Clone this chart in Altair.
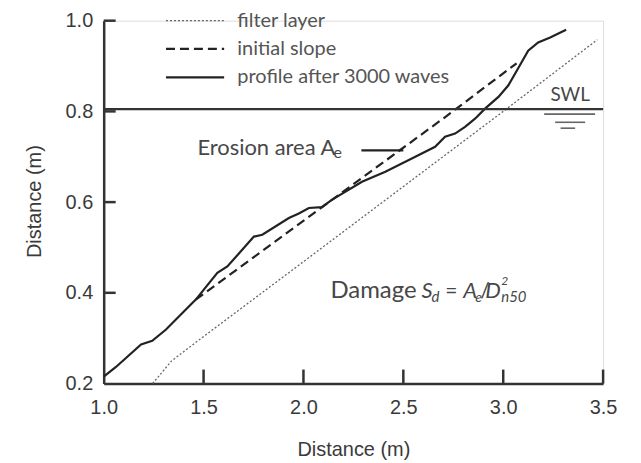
import altair as alt
import pandas as pd

# ---- data ----
profile_x = [1.0, 1.06, 1.187, 1.243, 1.312, 1.461, 1.569, 1.619, 1.752, 1.794, 1.927, 1.977,
             2.027, 2.092, 2.142, 2.293, 2.410, 2.560, 2.659, 2.709, 2.759, 2.809, 2.859,
             2.909, 2.976, 3.025, 3.075, 3.125, 3.175, 3.235, 3.315]
profile_y = [0.215, 0.236, 0.286, 0.294, 0.319, 0.385, 0.444, 0.458, 0.524, 0.528, 0.565, 0.575,
             0.587, 0.589, 0.605, 0.645, 0.667, 0.700, 0.722, 0.744, 0.751, 0.766, 0.784,
             0.806, 0.832, 0.857, 0.895, 0.934, 0.952, 0.963, 0.980]
initial_x = [1.461, 2.708, 3.067]
initial_y = [0.385, 0.787, 0.906]
filter_x = [1.245, 1.34, 1.48, 1.98, 3.009, 3.471]
filter_y = [0.200, 0.250, 0.297, 0.462, 0.803, 0.958]
swl_level = 0.805
x_ticks = [1.0, 1.5, 2.0, 2.5, 3.0, 3.5]
y_ticks = [0.2, 0.4, 0.6, 0.8, 1.0]
legend_labels = ["filter layer", "initial slope", "profile after 3000 waves"]

W, H = 501, 364
xs = alt.Scale(domain=[1.0, 3.5], nice=False, zero=False)
ys = alt.Scale(domain=[0.2, 1.0], nice=False, zero=False)
AX_COL = "#333333"
LAB_COL = "#3a3a3a"
xaxis = alt.Axis(values=x_ticks, format=".1f", title="Distance (m)", ticks=False, tickSize=0,
                 grid=False, domainColor=AX_COL, domainWidth=2.5, labelPadding=14,
                 labelFlush=False, labelOverlap=False,
                 labelFont="Liberation Sans", labelFontSize=20, labelColor=LAB_COL,
                 titleFont="Liberation Sans", titleFontSize=20, titleFontWeight="normal",
                 titleColor=LAB_COL, titleY=66, titleBaseline="middle")
yaxis = alt.Axis(values=y_ticks, format=".1f", title="Distance (m)", ticks=False, tickSize=0,
                 grid=False, domainColor=AX_COL, domainWidth=2.5, labelPadding=11,
                 labelFlush=False, labelOverlap=False,
                 labelFont="Liberation Sans", labelFontSize=20, labelColor=LAB_COL,
                 titleFont="Liberation Sans", titleFontSize=20, titleFontWeight="normal",
                 titleColor=LAB_COL, titleX=-69, titleY=181, titleAngle=-90,
                 titleBaseline="middle", titleAlign="center")

def X(f="x"):
    return alt.X(f + ":Q", scale=xs, axis=xaxis)

def Y(f="y"):
    return alt.Y(f + ":Q", scale=ys, axis=yaxis)

prof = pd.DataFrame({"x": profile_x, "y": profile_y, "o": range(len(profile_x))})
init = pd.DataFrame({"x": initial_x, "y": initial_y, "o": range(len(initial_x))})
filt = pd.DataFrame({"x": filter_x, "y": filter_y, "o": range(len(filter_x))})

filter_line = alt.Chart(filt).mark_line(color="#666666", strokeWidth=1.3, strokeDash=[2, 2]).encode(
    x=X(), y=Y(), order="o:Q")
init_line = alt.Chart(init).mark_line(color="#222222", strokeWidth=2.2, strokeDash=[9, 5]).encode(
    x=X(), y=Y(), order="o:Q")
prof_line = alt.Chart(prof).mark_line(color="#222222", strokeWidth=2.2).encode(
    x=X(), y=Y(), order="o:Q")

swl = alt.Chart(pd.DataFrame({"x": [1.0], "x2": [3.5], "y": [swl_level]})).mark_rule(
    color=AX_COL, strokeWidth=2.2).encode(x=X(), x2="x2:Q", y=Y())

# water symbol under SWL
water = pd.DataFrame({"x": [3.205, 3.26, 3.287], "x2": [3.46, 3.41, 3.36],
                      "y": [0.794, 0.776, 0.763]})
water_rules = alt.Chart(water).mark_rule(color="#666666", strokeWidth=1.6).encode(
    x=X(), x2="x2:Q", y=Y())

# inward ticks
xt = alt.Chart(pd.DataFrame({"x": x_ticks[1:]})).mark_rule(color=AX_COL, strokeWidth=2.5).encode(
    x=X(), y=alt.value(H), y2=alt.value(H - 14))
yt = alt.Chart(pd.DataFrame({"y": y_ticks[1:]})).mark_rule(color=AX_COL, strokeWidth=2.5).encode(
    y=Y(), x=alt.value(0), x2=alt.value(12))

# legend
leg_y = [1.0, 0.938, 0.875]
leg_dash = [[2, 2], [9, 5], [1, 0]]
leg_w = [1.3, 2.2, 2.2]
leg_col = ["#666666", "#222222", "#222222"]
leg_layers = []
for i in range(3):
    d = pd.DataFrame({"x": [1.312], "x2": [1.603], "y": [leg_y[i]]})
    leg_layers.append(alt.Chart(d).mark_rule(color=leg_col[i], strokeWidth=leg_w[i],
                                             strokeDash=leg_dash[i]).encode(x=X(), x2="x2:Q", y=Y()))
leg_text = alt.Chart(pd.DataFrame({"x": [1.669] * 3, "y": leg_y, "t": legend_labels})).mark_text(
    align="left", baseline="middle", font="Lato", fontSize=20, color="#555555").encode(
    x=X(), y=Y(), text="t:N")

# annotations: (text, x, y, size, style, align)
ann = [
    ("Erosion area A", 1.469, 0.7035, 22, "normal", "left"),
    ("e", 2.15, 0.697, 16, "normal", "left"),
    ("SWL", 3.434, 0.824, 19, "normal", "right"),
    ("Damage", 2.135, 0.3895, 24, "normal", "left"),
    ("S", 2.591, 0.3895, 22, "italic", "left"),
    ("d", 2.641, 0.379, 15, "italic", "left"),
    ("=", 2.71, 0.3895, 21, "normal", "left"),
    ("A", 2.80, 0.3895, 22, "italic", "left"),
    ("e", 2.86, 0.380, 14, "italic", "left"),
    ("/", 2.885, 0.3895, 21, "normal", "left"),
    ("D", 2.91, 0.3895, 22, "italic", "left"),
    ("2", 2.99, 0.418, 12, "italic", "left"),
    ("n50", 2.99, 0.380, 15, "italic", "left"),
]
ann_layers = []
for t, x, y, s, st, al in ann:
    d = pd.DataFrame({"x": [x], "y": [y], "t": [t]})
    ann_layers.append(alt.Chart(d).mark_text(align=al, baseline="alphabetic", font="Lato",
                                             fontSize=s, fontStyle=st, color="#474747").encode(
        x=X(), y=Y(), text="t:N"))

pointer = alt.Chart(pd.DataFrame({"x": [2.29], "x2": [2.50], "y": [0.714]})).mark_rule(
    color="#222222", strokeWidth=2.2).encode(x=X(), x2="x2:Q", y=Y())

chart = alt.layer(filter_line, init_line, prof_line, swl, water_rules, xt, yt, pointer,
                  *leg_layers, leg_text, *ann_layers).properties(
    width=W, height=H,
    autosize=alt.AutoSizeParams(type="none"),
    padding={"left": 96, "top": 12, "right": 30, "bottom": 78},
).configure_view(stroke=None).configure(background="white")

chart.save("out.html", embed_options={"renderer": "svg", "actions": False})
